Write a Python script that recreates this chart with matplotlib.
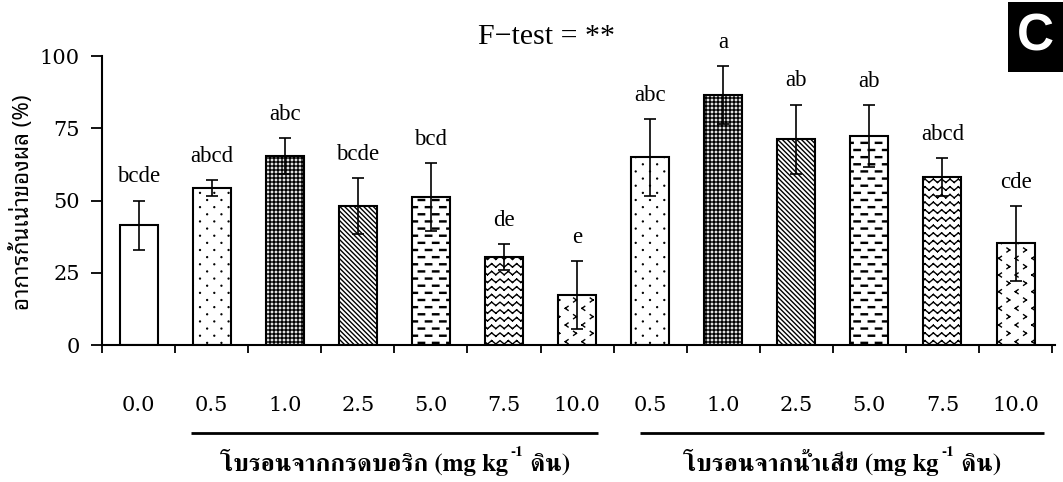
import warnings

import numpy as np
import matplotlib
matplotlib.use("Agg")
import matplotlib.pyplot as plt
import matplotlib.hatch as mhatch
from matplotlib.path import Path
from matplotlib.patches import Rectangle
from matplotlib.lines import Line2D
from matplotlib.transforms import blended_transform_factory

warnings.filterwarnings("ignore")

# ---------------------------------------------------------------- data
categories = ["0.0", "0.5", "1.0", "2.5", "5.0", "7.5", "10.0",
              "0.5", "1.0", "2.5", "5.0", "7.5", "10.0"]
rot_percent = [41.4, 54.4, 65.5, 48.1, 51.2, 30.3, 17.4,
               64.9, 86.5, 71.2, 72.3, 58.1, 35.2]
rot_error = [8.6, 2.7, 6.2, 9.8, 11.7, 4.5, 11.7,
             13.4, 9.9, 12.0, 10.8, 6.5, 13.0]
letters = ["bcde", "abcd", "abc", "bcde", "bcd", "de", "e",
           "abc", "a", "ab", "ab", "abcd", "cde"]
yticks = [0, 25, 50, 75, 100]

group_names = ["โบรอนจากกรดบอริก", "โบรอนจากน้ำเสีย"]
group_first = [1, 7]
group_last = [6, 12]
unit_head = "(mg kg"
unit_sup = "-1"
unit_tail = " ดิน)"
ylabel_text = "อาการก้นเน่าของผล (%)"
title_text = "F\u2212test = **"
panel_tag = "C"

# fill pattern per treatment level (0.0, then the six levels of each source)
level_hatch = ["", "p", "g", "k", "d", "z", "c",
               "p", "g", "k", "d", "z", "c"]
level_face = ["white", "white", "#e2e2e2", "white", "white", "white", "white",
              "white", "#e2e2e2", "white", "white", "white", "white"]


# ---------------------------------------------------------------- hatches
class _ShapeHatch(mhatch.HatchPatternBase):
    """Hatch built from a list of (points, closed) shapes in the unit cell."""
    key = "?"

    def __init__(self, hatch, density):
        self._parts = self.parts() if (hatch and self.key in hatch) else []
        self.num_vertices = sum(len(p) for p, _ in self._parts)

    def parts(self):
        return []

    def set_vertices_and_codes(self, vertices, codes):
        i = 0
        for pts, closed in self._parts:
            k = len(pts)
            vertices[i:i + k] = pts
            codes[i] = Path.MOVETO
            codes[i + 1:i + k] = Path.LINETO
            if closed:
                codes[i + k - 1] = Path.CLOSEPOLY
            i += k


def _brick(rows, cols):
    """Staggered lattice of centres covering the unit cell with wrap-around."""
    out = []
    for r in range(rows + 1):
        y = r / rows
        if r % 2 == 0:
            xs = [(j + 0.5) / cols for j in range(cols)]
        else:
            xs = [j / cols for j in range(cols + 1)]
        out.extend((x, y, r) for x in xs)
    return out


class DotHatch(_ShapeHatch):
    key = "p"

    def parts(self):
        rad = 0.0045
        ang = np.linspace(0, 2 * np.pi, 9)
        shapes = []
        for x, y, _ in _brick(14, 7):
            pts = np.column_stack([x + rad * np.cos(ang), y + rad * np.sin(ang)])
            shapes.append((pts, True))
        return shapes


class DashHatch(_ShapeHatch):
    key = "d"

    def parts(self):
        hl, ht = 0.032, 0.005
        shapes = []
        for x, y, _ in _brick(14, 7):
            pts = np.array([[x - hl, y - ht], [x + hl, y - ht],
                            [x + hl, y + ht], [x - hl, y + ht], [x - hl, y - ht]])
            shapes.append((pts, True))
        return shapes


class DiagonalHatch(_ShapeHatch):
    key = "k"

    def parts(self):
        n = 21
        shapes = []
        for k in range(-n, n + 1):
            x0 = k / n
            shapes.append((np.array([[x0, 1.0], [x0 + 1.0, 0.0]]), False))
        return shapes


class GridHatch(_ShapeHatch):
    key = "g"

    def parts(self):
        n = 25
        shapes = []
        for k in range(n):
            v = (k + 0.5) / n
            shapes.append((np.array([[0.0, v], [1.0, v]]), False))
            shapes.append((np.array([[v, 0.0], [v, 1.0]]), False))
        return shapes


class ZigzagHatch(_ShapeHatch):
    key = "z"

    def parts(self):
        rows, periods, amp = 13, 12, 0.017
        xs = np.arange(2 * periods + 1) / (2 * periods)
        shapes = []
        for r in range(rows):
            y0 = (r + 0.5) / rows
            ys = y0 + amp * np.where(np.arange(len(xs)) % 2 == 0, 1, -1)
            for a in range(len(xs) - 1):
                shapes.append((np.array([[xs[a], ys[a]], [xs[a + 1], ys[a + 1]]]), False))
        return shapes


class ChevronHatch(_ShapeHatch):
    key = "c"

    def parts(self):
        w, h = 0.014, 0.02
        shapes = []
        for x, y, r in _brick(12, 6):
            s = 1 if r % 2 == 0 else -1
            tip = (x + s * w, y)
            for yy in (y + h, y - h):
                shapes.append((np.array([[x - s * w, yy], tip]), False))
        return shapes


mhatch._hatch_types.extend([DotHatch, DashHatch, DiagonalHatch,
                            GridHatch, ZigzagHatch, ChevronHatch])

# ---------------------------------------------------------------- figure
plt.rcParams["hatch.linewidth"] = 1.0
plt.rcParams["font.family"] = ["Liberation Serif", "DejaVu Serif"]

fig = plt.figure(figsize=(10.63, 4.82), dpi=100)
ax = fig.add_axes([0.0960, 0.2842, 0.8965, 0.5996])

x = np.arange(len(categories))
ax.bar(x, rot_percent, width=0.52, color=level_face, edgecolor="black",
       linewidth=1.5, hatch=level_hatch, zorder=2)
ax.errorbar(x, rot_percent, yerr=rot_error, fmt="none", ecolor="black",
            elinewidth=1.2, capsize=4.3, capthick=1.2, zorder=3)

for xi, m, e, lab in zip(x, rot_percent, rot_error, letters):
    ax.annotate(lab, (xi, m + e), xytext=(0, 17), textcoords="offset points",
                ha="center", va="center", fontsize=16.5,
                family=["Liberation Serif"])

ax.set_xlim(-0.5, len(categories) - 0.46)
ax.set_ylim(0, 100)
ax.set_yticks(yticks)
ax.set_xticks(x, categories)
ax.set_xticks(np.arange(-0.5, len(categories)), minor=True)

for side in ("top", "right"):
    ax.spines[side].set_visible(False)
for side in ("left", "bottom"):
    ax.spines[side].set_linewidth(1.5)

ax.tick_params(axis="y", direction="out", length=8, width=1.3, pad=8)
ax.tick_params(axis="x", which="major", length=0, pad=37)
ax.tick_params(axis="x", which="minor", direction="out", length=5.5, width=1.3)
for lab in ax.get_xticklabels() + ax.get_yticklabels():
    lab.set_fontfamily(["DejaVu Serif"])
    lab.set_fontsize(15)

fig.text(0.5143, 0.924, title_text, ha="center", va="center", fontsize=21.5,
         family=["Liberation Serif", "DejaVu Serif"])

fig.text(0.0207, 0.58, ylabel_text, rotation=90, ha="center", va="center",
         fontsize=16, family=["Noto Sans Thai Looped", "DejaVu Sans"])

# panel tag
fig.patches.append(Rectangle((1008 / 1063, 1 - 72 / 482), 55 / 1063, 70 / 482,
                             transform=fig.transFigure, facecolor="black",
                             edgecolor="none"))
fig.text(1035.5 / 1063, 1 - 37 / 482, panel_tag, ha="center", va="center",
         color="white", fontsize=37, fontweight="bold",
         family=["Liberation Sans"])

# group underlines and group captions
line_tr = blended_transform_factory(ax.transData, fig.transFigure)
line_pad_left = [0.28, 0.14]
line_pad_right = [0.29, 0.39]
line_y = 1 - 433 / 482
base_y = 1 - 471 / 482
renderer = fig.canvas.get_renderer()
cap_font = dict(family=["FreeSerif"], fontweight="bold")

for name, a, b, pl, pr in zip(group_names, group_first, group_last,
                              line_pad_left, line_pad_right):
    x0, x1 = a - pl, b + pr
    fig.add_artist(Line2D([x0, x1], [line_y, line_y], transform=line_tr,
                          color="black", linewidth=2.0, solid_capstyle="butt"))
    t1 = fig.text(0, base_y, f"{name} {unit_head}", va="baseline", ha="left",
                  fontsize=18, **cap_font)
    t2 = fig.text(0, base_y + 15 / 482, unit_sup, va="baseline", ha="left",
                  fontsize=11, **cap_font)
    t3 = fig.text(0, base_y, unit_tail, va="baseline", ha="left",
                  fontsize=18, **cap_font)
    w1 = t1.get_window_extent(renderer).width
    w2 = t2.get_window_extent(renderer).width
    w3 = t3.get_window_extent(renderer).width
    gap = 3.0
    total = w1 + gap + w2 + w3
    xc_px = ax.transData.transform(((x0 + x1) / 2, 0))[0]
    start = xc_px - total / 2
    W = fig.bbox.width
    t1.set_x(start / W)
    t2.set_x((start + w1 + gap) / W)
    t3.set_x((start + w1 + gap + w2) / W)

fig.savefig("out.png", dpi=100)
